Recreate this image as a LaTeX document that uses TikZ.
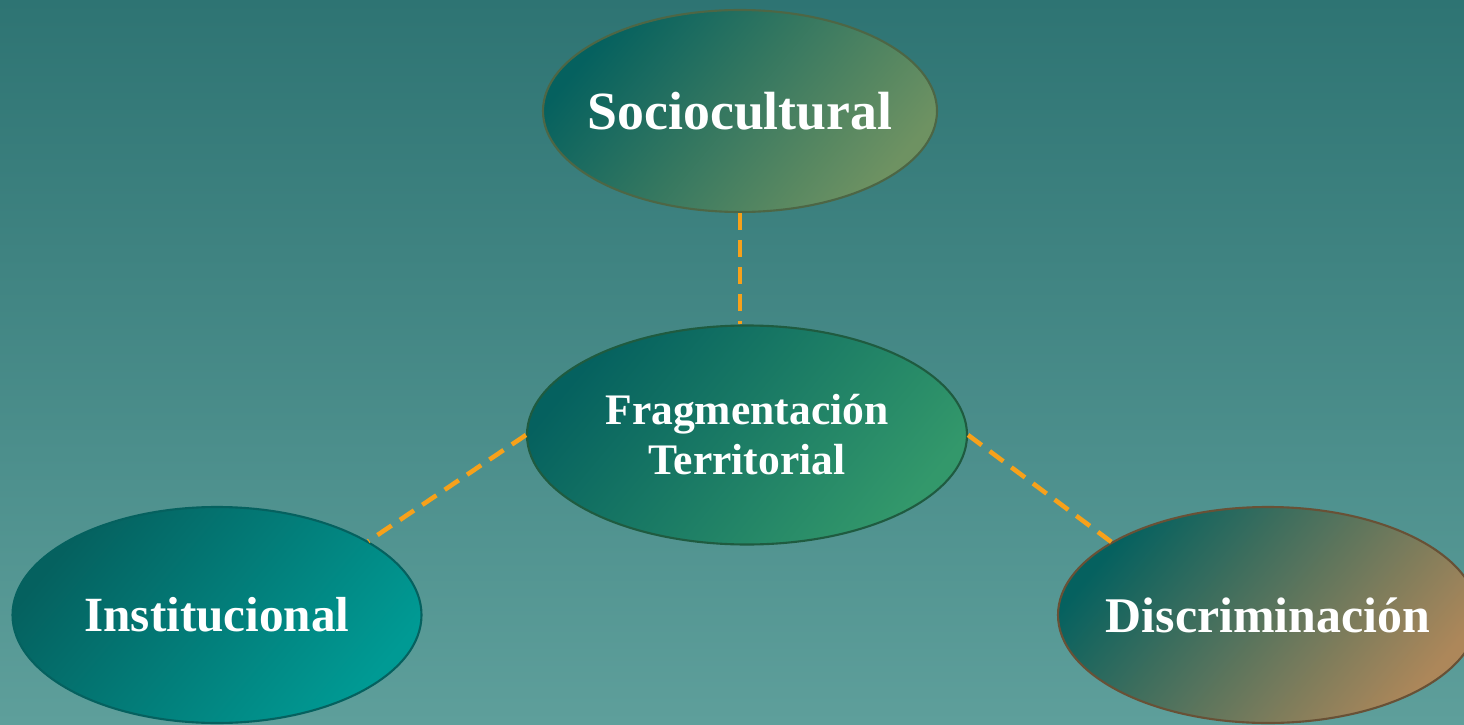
\documentclass[tikz,border=0pt]{standalone}
\usepackage{fontspec}
\setmainfont{Liberation Serif}
\usetikzlibrary{shapes.geometric}

\definecolor{bgtop}{HTML}{2E7473}
\definecolor{bgbot}{HTML}{5E9F9B}
\definecolor{deepteal}{HTML}{05615F}
\definecolor{olivegr}{HTML}{6E9262}
\definecolor{leafgr}{HTML}{33986B}
\definecolor{brightteal}{HTML}{009A94}
\definecolor{tan}{HTML}{AD875A}
\definecolor{linkorange}{HTML}{F7A11A}

\tikzset{
	blob/.style={ellipse, inner sep=0pt, line width=0.6pt},
	word/.style={text=white, font=\bfseries\fontsize{14.5}{17}\selectfont},
	link/.style={draw=linkorange, line width=1.3pt, dash pattern=on 0.17cm off 0.10cm}
}

\begin{document}
\begin{tikzpicture}
		\useasboundingbox (0,0) rectangle (14.64,7.24);
		\clip (0,0) rectangle (14.64,7.24);
		\shade[top color=bgtop, bottom color=bgbot] (0,0) rectangle (14.64,7.24);

		\node[blob, draw=olivegr!70!black, left color=deepteal, right color=olivegr, shading angle=50,
			minimum width=3.94cm, minimum height=2.02cm] (soc) at (7.40,6.13) {};
		\node[blob, draw=leafgr!60!black, left color=deepteal, right color=leafgr, shading angle=50,
			minimum width=4.40cm, minimum height=2.19cm] (frag) at (7.47,2.89) {};
		\node[blob, draw=deepteal, left color=deepteal, right color=brightteal, shading angle=50,
			minimum width=4.09cm, minimum height=2.16cm] (inst) at (2.17,1.09) {};
		\node[blob, draw=tan!60!black, left color=deepteal, right color=tan, shading angle=50,
			minimum width=4.20cm, minimum height=2.16cm] (disc) at (12.68,1.09) {};

		\node[word, font=\bfseries\fontsize{15.3}{18}\selectfont] (soc-t) at (soc) {Sociocultural};
		\node[word, align=center, font=\bfseries\fontsize{12.4}{14.2}\selectfont] (frag-t) at (frag) {Fragmentación\\Territorial};
		\node[word, font=\bfseries\fontsize{14}{17}\selectfont] (inst-t) at (inst) {Institucional};
		\node[word, font=\bfseries\fontsize{14.2}{17}\selectfont] (disc-t) at (disc) {Discriminación};

		\draw[link] (soc.south) -- (soc.south |- frag.north);
		\draw[link] (frag.west) -- (inst.26);
		\draw[link] (frag.east) -- (disc.155);
	\end{tikzpicture}
\end{document}
